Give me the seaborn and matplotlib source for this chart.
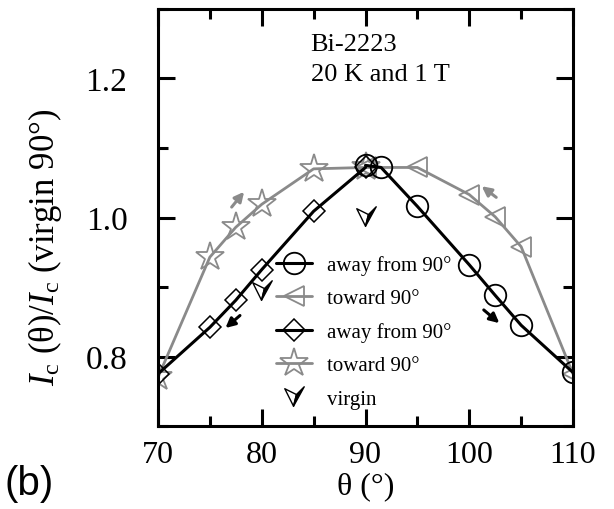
import matplotlib
matplotlib.use('Agg')
import matplotlib.pyplot as plt
import seaborn as sns
from matplotlib.path import Path
from matplotlib.ticker import MultipleLocator, FormatStrFormatter
from matplotlib.legend_handler import HandlerTuple

# values
theta_away_hi = [90, 91.5, 95, 100, 102.5, 105, 110]
ic_away_hi = [1.075, 1.072, 1.016, 0.932, 0.888, 0.845, 0.777]
theta_toward_hi = [90, 95, 100, 102.5, 105, 110]
ic_toward_hi = [1.072, 1.072, 1.033, 1.001, 0.958, 0.775]
theta_away_lo = [70, 75, 77.5, 80, 85, 90]
ic_away_lo = [0.775, 0.842, 0.881, 0.925, 1.009, 1.072]
theta_toward_lo = [70, 75, 77.5, 80, 85, 90]
ic_toward_lo = [0.770, 0.943, 0.986, 1.019, 1.070, 1.072]
theta_virgin = [80, 90]
ic_virgin = [0.896, 1.002]

labels = ['away from 90°', 'toward 90°', 'away from 90°', 'toward 90°', 'virgin']

# small direction arrows (start, end)
arrows_gray = [((77.1, 1.015), (78.3, 1.037)), ((102.6, 1.029), (101.2, 1.045))]
arrows_black = [((77.9, 0.859), (76.5, 0.841)), ((101.4, 0.867), (102.9, 0.848))]

sns.set_style('ticks')
plt.rcParams['font.family'] = ['Liberation Serif', 'DejaVu Serif']
plt.rcParams['mathtext.fontset'] = 'custom'
plt.rcParams['mathtext.rm'] = 'Liberation Serif'
plt.rcParams['mathtext.it'] = 'Liberation Serif:italic'
plt.rcParams['text.color'] = 'black'
plt.rcParams['axes.labelcolor'] = 'black'
plt.rcParams['xtick.color'] = 'black'
plt.rcParams['ytick.color'] = 'black'

gray = '#8a8a8a'

fig = plt.figure(figsize=(6.14, 5.10), dpi=100, facecolor='white')
ax = fig.add_axes([158/614, 1-427/510, 415/614, 417/510])

sns.lineplot(x=theta_toward_lo, y=ic_toward_lo, ax=ax, color=gray, lw=2.0,
             marker='*', ms=21, mfc='none', mec=gray, mew=1.3)
sns.lineplot(x=theta_toward_hi, y=ic_toward_hi, ax=ax, color=gray, lw=2.0,
             marker='<', ms=14, mfc='none', mec=gray, mew=1.3)
sns.lineplot(x=theta_away_lo, y=ic_away_lo, ax=ax, color='black', lw=2.2,
             marker='D', ms=11.5, mfc='none', mec='black', mew=1.1)
sns.lineplot(x=theta_away_hi, y=ic_away_hi, ax=ax, color='black', lw=2.2,
             marker='o', ms=15.5, mfc='none', mec='black', mew=1.3)

left_half = Path([(-1.0, 0.8), (0.2, 0.2), (-0.1, -1.0), (-1.0, 0.8)],
                 [Path.MOVETO, Path.LINETO, Path.LINETO, Path.CLOSEPOLY])
right_half = Path([(0.2, 0.2), (1.0, 1.0), (-0.1, -1.0), (0.2, 0.2)],
                  [Path.MOVETO, Path.LINETO, Path.LINETO, Path.CLOSEPOLY])
sns.lineplot(x=theta_virgin, y=ic_virgin, ax=ax, linestyle='none',
             marker=left_half, ms=14, mfc='white', mec='black', mew=1.0)
sns.lineplot(x=theta_virgin, y=ic_virgin, ax=ax, linestyle='none',
             marker=right_half, ms=14, mfc='black', mec='black', mew=1.0)

for (x0, y0), (x1, y1) in arrows_gray:
    ax.annotate('', xy=(x1, y1), xytext=(x0, y0),
                arrowprops=dict(arrowstyle='-|>', color=gray, lw=2.2, mutation_scale=14,
                                shrinkA=0, shrinkB=0))
for (x0, y0), (x1, y1) in arrows_black:
    ax.annotate('', xy=(x1, y1), xytext=(x0, y0),
                arrowprops=dict(arrowstyle='-|>', color='black', lw=2.2, mutation_scale=14,
                                shrinkA=0, shrinkB=0))

ax.text(84.7, 1.250, 'Bi-2223', fontsize=19, va='center', ha='left')
ax.text(84.7, 1.206, '20 K and 1 T', fontsize=19, va='center', ha='left')

ax.set_xlim(70, 110)
ax.set_ylim(0.7, 1.3)
ax.xaxis.set_major_locator(MultipleLocator(10))
ax.xaxis.set_minor_locator(MultipleLocator(5))
ax.yaxis.set_major_locator(MultipleLocator(0.2))
ax.yaxis.set_minor_locator(MultipleLocator(0.1))
ax.yaxis.set_major_formatter(FormatStrFormatter('%.1f'))
ax.tick_params(which='both', direction='in', top=True, right=True, width=2.2,
               labelsize=23, color='black', labelcolor='black')
ax.tick_params(which='major', length=12)
ax.tick_params(which='minor', length=7)
ax.tick_params(axis='y', pad=22, labelsize=24)
ax.tick_params(axis='x', pad=10)
for s in ax.spines.values():
    s.set_linewidth(2.2)
    s.set_color('black')

ax.set_xlabel('θ (°)', fontsize=23, labelpad=2)
ax.set_ylabel(r'$I_{\rm c}$ (θ)/$I_{\rm c}$ (virgin 90°)', fontsize=25)
ax.yaxis.set_label_coords(-0.226, 0.43)

lines = ax.get_lines()
handles = [lines[3], lines[1], lines[2], lines[0], (lines[4], lines[5])]
ax.legend(handles, labels, handler_map={tuple: HandlerTuple(ndivide=1)},
          loc='upper left', bbox_to_anchor=(0.284, 0.41), frameon=False,
          fontsize=15, borderpad=0, borderaxespad=0, labelspacing=0.66,
          handlelength=1.75, handletextpad=0.7, numpoints=1)

fig.text(0.008, 0.03, '(b)', fontsize=29, family='Liberation Sans')

fig.savefig('out.png', dpi=100)
